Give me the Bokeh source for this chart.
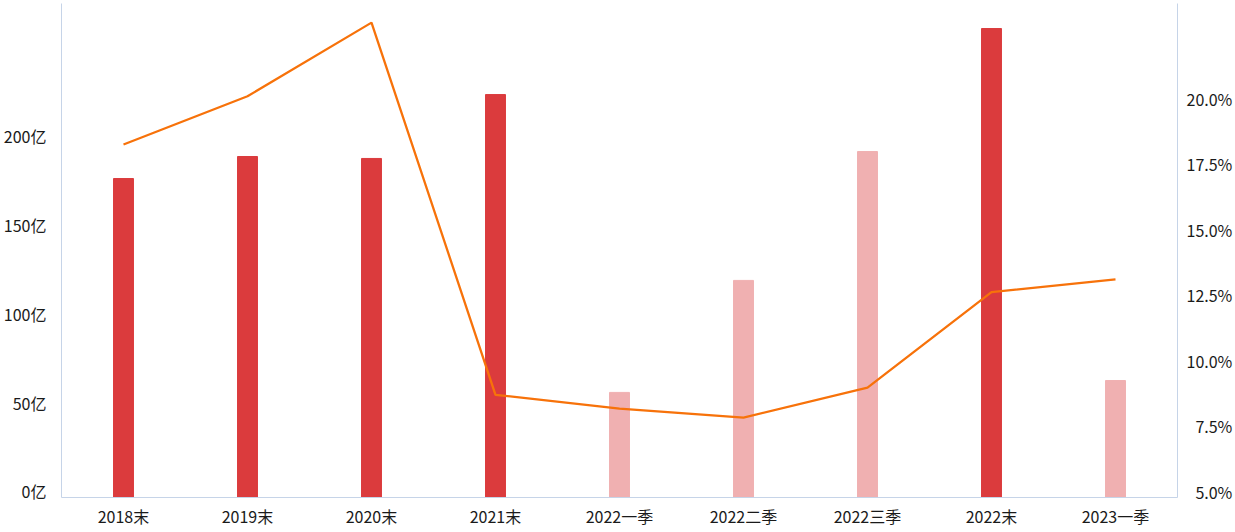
from bokeh.plotting import figure
from bokeh.models import (Range1d, FactorRange, LinearAxis, FixedTicker,
                          CustomJSTickFormatter, ColumnDataSource)
from bokeh.embed import file_html
from bokeh.resources import INLINE

# ---- data ----
categories = ["2018末", "2019末", "2020末", "2021末", "2022一季",
              "2022二季", "2022三季", "2022末", "2023一季"]
amount_yi = [179.7, 192.1, 191.0, 227.0, 59.2, 122.3, 194.9, 264.2, 65.9]
ratio_pct = [18.47, 20.31, 23.12, 8.92, 8.39, 8.05, 9.19, 12.84, 13.32]
left_ticks = [0, 50, 100, 150, 200]
right_ticks = [5.0, 7.5, 10.0, 12.5, 15.0, 17.5, 20.0]

DARK = "#db3b3d"
LIGHT = "#f0b0b1"
LINE = "#f7720a"
AXIS = "#c6d4e8"
FONT = "Noto Sans CJK SC"
TXT = "#1a1a1a"

colors = [DARK if c.endswith("末") else LIGHT for c in categories]
src = ColumnDataSource(dict(cat=categories, amt=amount_yi, pct=ratio_pct, color=colors))

p = figure(width=1235, height=532, output_backend="svg", toolbar_location=None,
           x_range=FactorRange(*categories, range_padding=0),
           y_range=Range1d(0, 278.3),
           min_border_left=60, min_border_right=58, min_border_top=3, min_border_bottom=35)
p.extra_y_ranges = {"pct": Range1d(5.0, 23.85)}
p.outline_line_color = None
p.xgrid.visible = False
p.ygrid.visible = False
p.background_fill_color = "white"
p.border_fill_color = "white"

p.vbar(x="cat", top="amt", bottom=0, width=0.161, color="color", source=src)
p.line(x="cat", y="pct", y_range_name="pct", line_color=LINE, line_width=2.3, source=src)

# label offsets (labels sit slightly above their tick position)
loff = 3.4
roff = 0.21

def style_axis(ax):
    ax.axis_line_color = AXIS
    ax.axis_line_width = 1
    ax.major_tick_line_color = None
    ax.minor_tick_line_color = None
    ax.major_tick_out = 0
    ax.major_tick_in = 0
    ax.major_label_text_font = FONT
    ax.major_label_text_font_size = "16px"
    ax.major_label_text_color = TXT

xa = p.xaxis[0]
style_axis(xa)
xa.major_label_standoff = 6

ya = p.yaxis[0]
style_axis(ya)
ya.major_label_standoff = 15
ya.ticker = FixedTicker(ticks=[t + loff for t in left_ticks])
ya.formatter = CustomJSTickFormatter(args=dict(off=loff),
                                     code="return Math.round(tick - off) + '亿';")

ra = LinearAxis(y_range_name="pct")
style_axis(ra)
ra.major_label_standoff = 9
ra.ticker = FixedTicker(ticks=[t + roff for t in right_ticks])
ra.formatter = CustomJSTickFormatter(args=dict(off=roff), code="""
const s = (tick - off).toFixed(1) + '%';
return s.length < 5 ? '\\u2007' + s : s;
""")
p.add_layout(ra, "right")

open("out.html", "w").write(file_html(p, INLINE))
